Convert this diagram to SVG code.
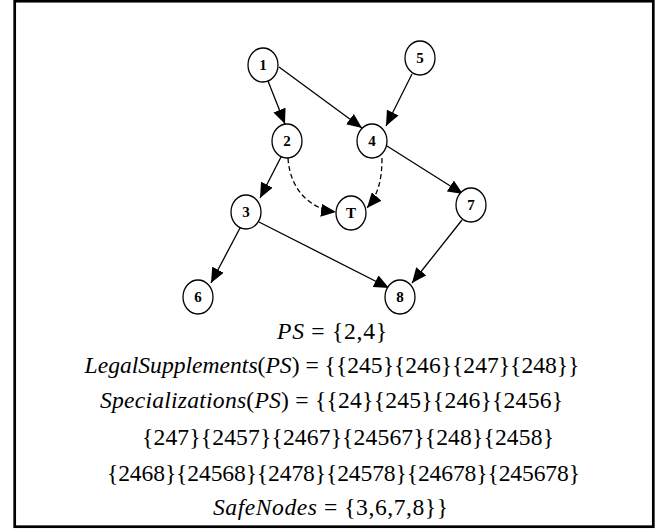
<svg xmlns="http://www.w3.org/2000/svg" width="660" height="531" viewBox="0 0 660 531">
  <style>
    .node ellipse { fill: #ffffff; stroke: #000000; stroke-width: 1.3; }
    .node text { font-family: "Liberation Serif", "Times New Roman", serif; font-weight: bold; font-size: 15px; text-anchor: middle; fill: #000000; }
    .edge { fill: none; stroke: #000000; stroke-width: 1.3; marker-end: url(#arrow); }
    .dashed { stroke-dasharray: 5 3; }
    .math { font-family: "Liberation Serif", "Times New Roman", serif; font-size: 23.6px; fill: #000000; }
    .math .v { font-style: italic; }
  </style>
  <defs>
    <marker id="arrow" viewBox="0 0 15 13" refX="15" refY="6.5" markerWidth="15" markerHeight="13" markerUnits="userSpaceOnUse" orient="auto">
      <path d="M0,0 L15,6.5 L0,13 Z" fill="#000000"/>
    </marker>
  </defs>

  <rect x="14.7" y="1.2" width="638.6" height="525.5" fill="#ffffff" stroke="#000000" stroke-width="2.7"/>

  <g id="edges">
    <path class="edge" d="M268,81 L285,124"/>
    <path class="edge" d="M279,67 L362,128"/>
    <path class="edge" d="M412,74 L386,126"/>
    <path class="edge" d="M281,157 L260,198"/>
    <path class="edge dashed" d="M288,158 C290,190 310,209 336,212"/>
    <path class="edge dashed" d="M382,158 C382,180 378,195 367,208"/>
    <path class="edge" d="M387,146 L463,194"/>
    <path class="edge" d="M240,228 L211,283"/>
    <path class="edge" d="M259,222 L389,288"/>
    <path class="edge" d="M462,220 L412,283"/>
  </g>

  <g id="node1" class="node"><ellipse cx="263" cy="65" rx="15" ry="17"/><text x="263" y="70">1</text></g>
  <g id="node5" class="node"><ellipse cx="420" cy="58" rx="15" ry="17"/><text x="420" y="63">5</text></g>
  <g id="node2" class="node"><ellipse cx="287" cy="141" rx="15" ry="17"/><text x="287" y="146">2</text></g>
  <g id="node4" class="node"><ellipse cx="372" cy="141" rx="15" ry="17"/><text x="372" y="146">4</text></g>
  <g id="node3" class="node"><ellipse cx="246" cy="212" rx="15" ry="17"/><text x="246" y="217">3</text></g>
  <g id="nodeT" class="node"><ellipse cx="351" cy="213" rx="15" ry="17"/><text x="351" y="218">T</text></g>
  <g id="node7" class="node"><ellipse cx="471" cy="205" rx="15" ry="17"/><text x="471" y="210">7</text></g>
  <g id="node6" class="node"><ellipse cx="198" cy="297" rx="15" ry="17"/><text x="198" y="302">6</text></g>
  <g id="node8" class="node"><ellipse cx="400" cy="297" rx="15" ry="17"/><text x="400" y="302">8</text></g>

  <g id="equations" class="math">
    <text x="277" y="339" textLength="110" lengthAdjust="spacing"><tspan class="v">PS</tspan> = {2,4}</text>
    <text x="332" y="373" text-anchor="middle"><tspan class="v">LegalSupplements</tspan>(<tspan class="v">PS</tspan>) = {{245}{246}{247}{248}}</text>
    <text x="100" y="408" textLength="463" lengthAdjust="spacing"><tspan class="v">Specializations</tspan>(<tspan class="v">PS</tspan>) = {{24}{245}{246}{2456}</text>
    <text x="142" y="445" textLength="412" lengthAdjust="spacing">{247}{2457}{2467}{24567}{248}{2458}</text>
    <text x="107" y="481" textLength="473" lengthAdjust="spacing">{2468}{24568}{2478}{24578}{24678}{245678}</text>
    <text x="213" y="515" textLength="235" lengthAdjust="spacing"><tspan class="v">SafeNodes</tspan> = {3,6,7,8}}</text>
  </g>
</svg>
